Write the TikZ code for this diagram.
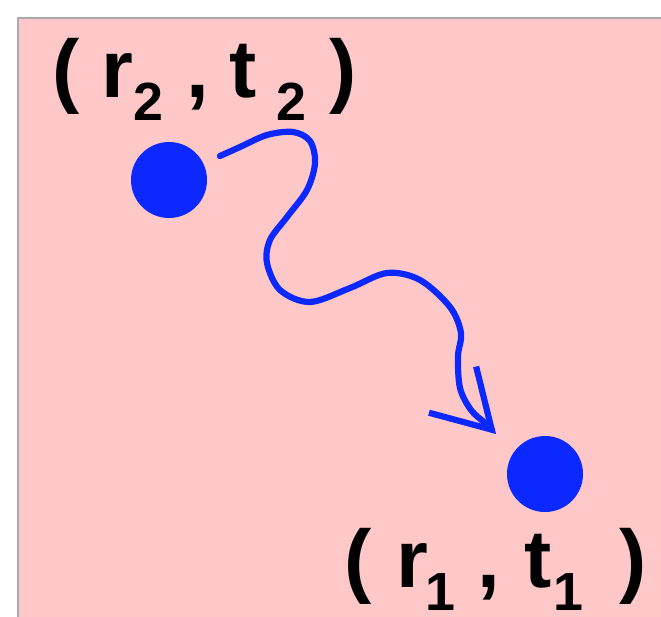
\documentclass[tikz,border=0pt]{standalone}
\usepackage{fontspec}
\setmainfont{Liberation Sans}
\usetikzlibrary{arrows.meta}
\definecolor{bgpink}{RGB}{255,200,200}
\definecolor{dotblue}{RGB}{10,40,255}
\definecolor{framegray}{RGB}{170,170,170}
\newcommand\subdig[1]{\raisebox{-23bp}{\fontsize{54}{54}\selectfont\bfseries #1}}
\begin{document}
\begin{tikzpicture}[x=1bp,y=-1bp,
  dot/.style={circle,fill=dotblue,inner sep=0,minimum size=76bp},
  lbl/.style={anchor=base west,inner sep=0,font=\fontsize{82}{82}\selectfont\bfseries},
  wave/.style={draw=dotblue,line width=6.2bp,line cap=round,line join=round,-{Straight Barb[length=56bp,width=66bp]}}]
\useasboundingbox (0,0) rectangle (661,617);
\fill[white] (0,0) rectangle (661,617);
\fill[bgpink] (18,18) rectangle (661,617);
\draw[framegray,line width=2bp] (18,617) -- (18,18) -- (661,18);
\node[dot] (a) at (169,180) {};
\node[dot] (b) at (545,474) {};
\node[lbl] (la) at (52,98) {(\kern22bp r\subdig{2}\kern23bp,\kern21bp t\kern19bp\subdig{2}\kern24bp)};
\node[lbl] (lb) at (344,587) {(\kern25bp r\kern-3bp\subdig{1}\kern22bp,\kern25bp t\kern1bp\subdig{1}\kern37bp)};
\coordinate (s) at (220,156);
\coordinate (e) at (496,434);
\draw[wave] plot[smooth,tension=0.55] coordinates {(s) (240,147) (267,135) (293,132) (310,141) (315,163) (307,190) (287,217) (270,240) (267,263) (280,290) (310,302) (350,288) (387,273) (420,280) (450,307) (461,333) (458,356) (460,388) (471,410) (485,423) (e)};
\end{tikzpicture}
\end{document}
